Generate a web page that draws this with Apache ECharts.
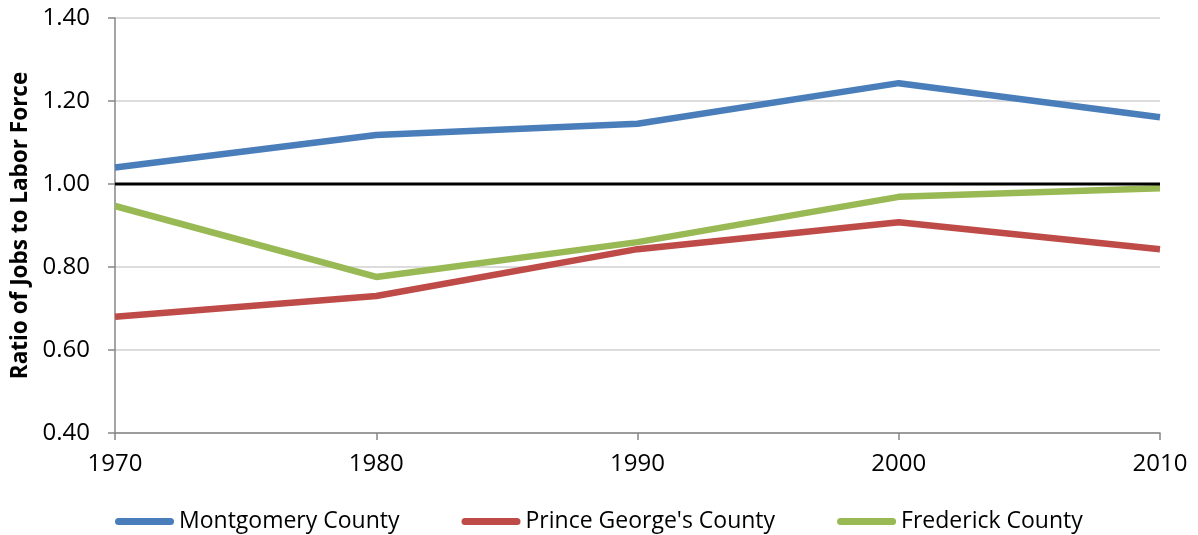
<!DOCTYPE html>
<html lang="en">
<head>
    <meta charset="UTF-8">
    <title>Ratio of Jobs to Labor Force</title>
    <style>
        html, body { margin: 0; padding: 0; background: #fff; }
        #box { width: 1198px; height: 535px; }
    </style>
</head>
<body>
<div id="box"></div>
<script src="https://cdn.jsdelivr.net/npm/echarts@6/dist/echarts.min.js"></script>
<script>
    var years = ['1970', '1980', '1990', '2000', '2010'];
    var montgomery = [1.04, 1.118, 1.145, 1.243, 1.161];
    var princeGeorges = [0.68, 0.73, 0.843, 0.908, 0.843];
    var frederick = [0.947, 0.776, 0.86, 0.969, 0.99];
    var parity = [1, 1, 1, 1, 1];
    var yTicks = [0.4, 0.6, 0.8, 1.0, 1.2, 1.4];

    var font = 'Open Sans';
    var colors = ['#4a7ebb', '#be4b48', '#98b954'];
    // pill shaped legend swatch
    var pill = 'path://M3.5,0 L55.5,0 A3.5,3.5 0 0 1 55.5,7 L3.5,7 A3.5,3.5 0 0 1 3.5,0 Z';

    var mychart = echarts.init(document.getElementById('box'));

    function lineSeries(name, data, color) {
        return {
            name: name,
            type: 'line',
            data: data,
            symbol: 'none',
            itemStyle: { color: color },
            lineStyle: { color: color, width: 6.5 }
        };
    }

    var option = {
        animation: false,
        grid: { left: 115, right: 38, top: 18, bottom: 102, outerBoundsMode: 'none' },
        legend: {
            data: ['Montgomery County', "Prince George's County", 'Frederick County'],
            icon: pill,
            left: 110,
            top: 505,
            itemWidth: 59,
            itemHeight: 7,
            itemGap: 62,
            textStyle: { fontFamily: font, fontSize: 23, color: '#000' }
        },
        xAxis: {
            type: 'category',
            data: years,
            boundaryGap: false,
            axisLine: { lineStyle: { color: '#868686', width: 1.5 } },
            axisTick: { show: true, length: 7, lineStyle: { color: '#868686', width: 1.5 } },
            axisLabel: { fontFamily: font, fontSize: 24, color: '#000', margin: 19 },
            splitLine: { show: false }
        },
        yAxis: {
            type: 'value',
            min: yTicks[0],
            max: yTicks[yTicks.length - 1],
            interval: 0.2,
            name: 'Ratio of Jobs to Labor Force',
            nameLocation: 'middle',
            nameGap: 82,
            nameTextStyle: { fontFamily: font, fontSize: 22.5, fontWeight: 'bold', color: '#000' },
            axisLine: { show: true, lineStyle: { color: '#868686', width: 1.5 } },
            axisTick: { show: true, length: 7, lineStyle: { color: '#868686', width: 1.5 } },
            axisLabel: {
                fontFamily: font, fontSize: 24, color: '#000', margin: 25,
                formatter: function (v) { return v.toFixed(2); }
            },
            splitLine: { lineStyle: { color: '#d0d0d0', width: 1.5 } }
        },
        series: [
            lineSeries('Montgomery County', montgomery, colors[0]),
            lineSeries("Prince George's County", princeGeorges, colors[1]),
            lineSeries('Frederick County', frederick, colors[2]),
            {
                name: 'Parity',
                type: 'line',
                data: parity,
                symbol: 'none',
                silent: true,
                lineStyle: { color: '#000', width: 3 }
            }
        ]
    };
    mychart.setOption(option);
    window.onresize = mychart.resize;
</script>
</body>
</html>
